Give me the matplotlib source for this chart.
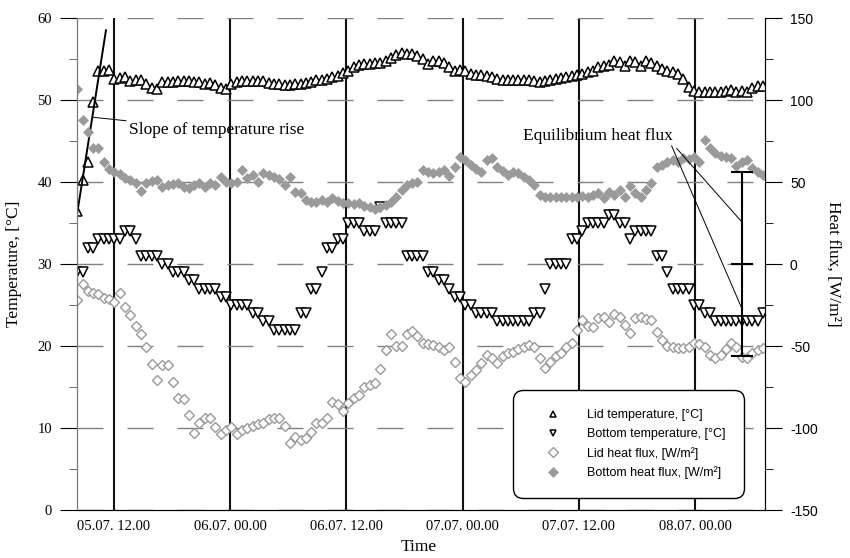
import matplotlib
matplotlib.use("Agg")
import matplotlib.pyplot as plt
import numpy as np
from matplotlib.ticker import MultipleLocator

plt.rcParams['font.family'] = ['Liberation Serif', 'DejaVu Serif']
plt.rcParams['axes.unicode_minus'] = False

# sampling: hours since 05.07. 00.00
t_start = 8.2
t_step = 0.549

tick_hours = [12, 24, 36, 48, 60, 72]
tick_labels = ["05.07. 12.00", "06.07. 00.00", "06.07. 12.00",
               "07.07. 00.00", "07.07. 12.00", "08.07. 00.00"]

lid_temp = [36.5, 40.2, 42.4, 49.8, 53.6, 53.6, 53.7, 52.6, 52.7, 52.8,
            52.3, 52.4, 52.5, 51.9, 51.5, 51.3, 52.2, 52.2, 52.2, 52.3,
            52.3, 52.3, 52.2, 52.2, 52.0, 52.1, 51.8, 51.5, 51.3, 52.0,
            52.2, 52.3, 52.3, 52.3, 52.3, 52.3, 52.1, 52.0, 51.9, 51.8,
            51.8, 51.9, 51.9, 52.1, 52.2, 52.4, 52.5, 52.6, 52.8, 52.9,
            53.3, 53.6, 54.0, 54.3, 54.4, 54.4, 54.5, 54.5, 54.7, 55.1,
            55.5, 55.7, 55.6, 55.6, 55.4, 55.0, 54.4, 54.7, 54.7, 54.5,
            54.0, 53.6, 53.7, 53.5, 53.2, 53.1, 53.0, 52.9, 52.8, 52.6,
            52.5, 52.5, 52.5, 52.5, 52.4, 52.4, 52.3, 52.2, 52.3, 52.4,
            52.6, 52.7, 52.8, 52.9, 53.0, 53.2, 53.4, 53.5, 54.0, 54.1,
            54.3, 54.7, 54.6, 54.2, 54.8, 54.6, 54.2, 54.8, 54.5, 54.1,
            53.8, 53.6, 53.4, 53.2, 52.6, 51.6, 51.1, 51.0, 51.0, 51.0,
            51.0, 51.0, 51.1, 51.2, 51.0, 51.1, 51.0, 51.5, 51.7, 51.7]

bottom_temp = [29, 29, 32, 32, 33, 33, 33, 33, 33, 34,
               34, 33, 31, 31, 31, 31, 30, 30, 29, 29,
               29, 28, 28, 27, 27, 27, 27, 26, 26, 25,
               25, 25, 25, 24, 24, 23, 23, 22, 22, 22,
               22, 22, 24, 24, 27, 27, 29, 32, 32, 33,
               33, 35, 35, 35, 34, 34, 34, 37, 35, 35,
               35, 35, 31, 31, 31, 31, 29, 29, 28, 28,
               27, 26, 26, 25, 25, 24, 24, 24, 24, 23,
               23, 23, 23, 23, 23, 23, 24, 24, 27, 30,
               30, 30, 30, 33, 33, 34, 35, 35, 35, 35,
               36, 36, 35, 35, 33, 34, 34, 34, 34, 31,
               31, 29, 27, 27, 27, 27, 25, 25, 24, 24,
               23, 23, 23, 23, 23, 23, 23, 23, 23, 24]

lid_flux = [-22.0, -12.4, -16.5, -17.9, -18.5, -20.5, -21.6, -23.0, -17.9, -26.4,
            -31.1, -37.8, -42.7, -50.8, -61.2, -70.7, -61.6, -61.6, -71.7, -81.9,
            -82.3, -92.1, -103.2, -97.2, -94.1, -94.1, -99.6, -103.9, -101.2, -99.2,
            -103.9, -101.2, -99.8, -98.8, -97.5, -97.2, -94.7, -94.1, -94.1, -98.8,
            -109.0, -105.3, -107.3, -106.3, -102.2, -96.8, -97.2, -94.1, -84.4, -85.6,
            -89.4, -84.6, -81.9, -79.9, -74.8, -73.8, -72.8, -64.0, -52.5, -42.7,
            -50.0, -50.0, -42.7, -40.7, -44.0, -48.4, -48.8, -49.4, -50.4, -52.4,
            -50.4, -59.6, -69.7, -71.7, -67.7, -64.6, -60.6, -55.5, -57.5, -60.6,
            -56.1, -54.5, -53.5, -52.0, -50.4, -49.4, -50.8, -57.5, -63.6, -59.6,
            -56.1, -54.1, -50.4, -48.4, -40.3, -34.1, -37.8, -38.2, -33.1, -32.5,
            -35.1, -30.5, -32.1, -37.2, -42.3, -33.1, -32.5, -33.7, -34.1, -41.3,
            -46.3, -50.0, -50.8, -51.4, -51.4, -50.8, -47.9, -48.8, -50.4, -55.5,
            -57.5, -55.5, -52.0, -47.9, -50.4, -56.5, -57.5, -54.5, -52.4, -51.4]

bottom_flux = [107.0, 88.0, 80.7, 70.5, 70.5, 62.4, 57.7, 56.3, 54.9, 52.2,
               51.2, 49.2, 44.7, 49.2, 50.6, 51.2, 47.1, 48.1, 48.5, 49.2,
               47.1, 46.1, 48.1, 49.2, 47.1, 49.2, 48.1, 53.3, 50.2, 49.2,
               50.2, 57.3, 52.2, 54.3, 50.2, 55.7, 54.3, 52.8, 51.6, 48.1,
               52.8, 44.1, 43.1, 39.0, 38.0, 38.0, 39.0, 38.0, 40.0, 38.6,
               37.0, 37.4, 36.6, 37.0, 35.4, 35.0, 33.4, 34.5, 36.0, 38.0,
               41.1, 45.1, 48.1, 49.6, 50.2, 57.3, 56.3, 55.3, 56.3, 57.3,
               53.7, 59.4, 65.4, 63.4, 60.4, 57.7, 56.3, 63.4, 64.4, 59.4,
               57.0, 54.3, 56.3, 55.3, 53.3, 51.2, 48.1, 42.1, 41.1, 41.0,
               41.0, 41.0, 41.0, 41.0, 41.0, 41.5, 41.0, 42.1, 43.1, 40.0,
               44.1, 42.1, 45.1, 41.1, 47.6, 43.1, 41.1, 45.1, 49.6, 59.4,
               60.4, 62.4, 63.4, 62.4, 64.4, 63.8, 65.4, 62.4, 75.6, 70.5,
               67.5, 66.0, 65.4, 64.4, 59.8, 62.4, 63.4, 58.3, 56.3, 54.3]

# annotation geometry (data units)
slope_t = [8.2, 11.17]
slope_T = [36.2, 58.5]
eq_t = 76.81
eq_flux = 0
eq_err = 56

hours = t_start + t_step * np.arange(len(lid_temp))

fig = plt.figure(figsize=(8.5, 5.58), dpi=100)
ax = fig.add_axes([0.0906, 0.086, 0.8094, 0.8817])
ax2 = ax.twinx()

ax.set_xlim(8.18, 79.22)
ax.set_ylim(0, 60)
ax2.set_ylim(-150, 150)

ax.set_xticks(tick_hours)
ax.set_xticklabels(tick_labels, fontsize=10.5)
ax.tick_params(axis='x', length=0, pad=7)
ax.yaxis.set_major_locator(MultipleLocator(10))
ax.yaxis.set_minor_locator(MultipleLocator(5))
ax.tick_params(axis='y', which='major', length=12, direction='out', labelsize=10.5, pad=6)
ax.tick_params(axis='y', which='minor', length=6, direction='out', color='#555555')

ax2.yaxis.set_major_locator(MultipleLocator(50))
ax2.yaxis.set_minor_locator(MultipleLocator(25))
ax2.tick_params(axis='y', which='major', length=12, direction='out', labelsize=10, pad=6)
ax2.tick_params(axis='y', which='minor', length=6, direction='out')
for lab in ax2.get_yticklabels():
    lab.set_family('Liberation Sans')

ax.set_axisbelow(True)
ax.xaxis.grid(True, color='#111111', lw=1.5, ls='-')
ax.yaxis.grid(True, color='#808080', lw=1.0, ls=(0, (18.7, 17.3)))

for a in (ax, ax2):
    a.spines['top'].set_visible(False)
    a.spines['left'].set_color('#777777')
    a.spines['right'].set_color('black')
    a.spines['bottom'].set_color('black')

ax.set_ylabel("Temperature, [°C]", fontsize=12.5)
ax.yaxis.set_label_coords(-0.08, 0.5)
ax2.set_ylabel("Heat flux, [W/m²]", fontsize=12.5, rotation=270, va='center')
ax2.yaxis.set_label_coords(1.099, 0.5)
ax.set_xlabel("Time", fontsize=12.5, va='center')
ax.xaxis.set_label_coords(0.497, -0.075)

h1, = ax.plot(hours, lid_temp, ls='none', marker='^', ms=6.5, mfc='white',
              mec='black', mew=1.1, label="Lid temperature, [°C]")
h2, = ax.plot(hours, bottom_temp, ls='none', marker='v', ms=6.5, mfc='white',
              mec='black', mew=1.1, label="Bottom temperature, [°C]")
ax.plot(slope_t, slope_T, color='black', lw=1.4)
ax.annotate("Slope of temperature rise", xy=(9.83, 47.9), xytext=(13.55, 46.3),
            fontsize=12.5, va='center', ha='left',
            arrowprops=dict(arrowstyle='-', color='black', lw=0.7,
                            shrinkA=0, shrinkB=0))

h3, = ax2.plot(hours, lid_flux, ls='none', marker='D', ms=5, mfc='white',
               mec='#9a9a9a', mew=1.0, label="Lid heat flux, [W/m²]")
h4, = ax2.plot(hours, bottom_flux, ls='none', marker='D', ms=5.5, mfc='#9a9a9a',
               mec='#9a9a9a', mew=0.5, label="Bottom heat flux, [W/m²]")

ax2.errorbar([eq_t], [eq_flux], yerr=[eq_err], color='black', lw=1.5,
             capsize=8, capthick=1.5, marker='_', ms=16, mew=1.5)
ax2.text(61.95, 78, "Equilibrium heat flux", fontsize=12.5, ha='center', va='center',
         family='Liberation Serif')
ax2.plot([69.58, eq_t], [72.0, -26.8], color='black', lw=0.7)
ax2.plot([70.1, eq_t], [70.5, 25.8], color='black', lw=0.7)

leg = ax2.legend(handles=[h1, h2, h3, h4], loc='lower left',
                 bbox_to_anchor=(0.634, 0.024), borderaxespad=0,
                 prop={'family': 'Liberation Sans', 'size': 9},
                 numpoints=1, handlelength=3.4, handletextpad=1.0,
                 labelspacing=0.55, borderpad=1.5, framealpha=1,
                 edgecolor='black', fancybox=True)
leg.get_frame().set_boxstyle('round,pad=0,rounding_size=0.8')
leg.get_frame().set_linewidth(1.0)
for lh in leg.legend_handles:
    lh.set_markersize(5)

fig.savefig("out.png", dpi=100)
